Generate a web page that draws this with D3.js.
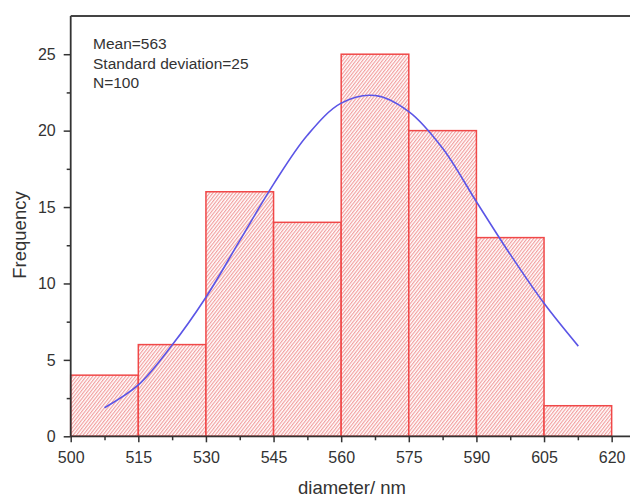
<!DOCTYPE html>
<html lang="en">
<head>
  <meta charset="UTF-8">
  <title>Diameter histogram</title>
  <script src="https://cdn.jsdelivr.net/npm/d3@7"></script>
  <style>
    body { margin: 0; background: #fff; }
    text { font-family: "Liberation Sans", Arial, sans-serif; fill: #333; }
  </style>
</head>
<body>
<div id="chart"></div>
<script>
  // histogram data
  var binEdges = [500, 515, 530, 545, 560, 575, 590, 605, 620];
  var counts = [4, 6, 16, 14, 25, 20, 13, 2];
  var xTicks = [500, 515, 530, 545, 560, 575, 590, 605, 620];
  var yTicks = [0, 5, 10, 15, 20, 25];
  // fitted normal curve
  var fitX = [507.5, 515, 522.5, 530, 537.5, 545, 552.5, 560, 567.5, 575, 582.5, 590, 597.5, 605, 612.6];
  var fitY = [1.87, 3.36, 5.97, 9.1, 12.8, 16.5, 19.7, 21.8, 22.3, 21.25, 18.85, 15.35, 11.9, 8.7, 5.9];
  var statLines = ["Mean=563", "Standard deviation=25", "N=100"];

  var width = 630, height = 498;
  var plotLeft = 70.7, plotTop = 16, plotBottom = 436.3;

  var svg = d3.select("#chart").append("svg")
    .attr("width", width)
    .attr("height", height);

  var x = d3.scaleLinear().domain([500, 625]).range([plotLeft, plotLeft + 125 * 4.508]);
  var y = d3.scaleLinear().domain([0, 27.5]).range([plotBottom, plotTop]);

  // hatch fill
  var pat = svg.append("defs").append("pattern")
    .attr("id", "hatch")
    .attr("patternUnits", "userSpaceOnUse")
    .attr("width", 2.6)
    .attr("height", 2.6)
    .attr("patternTransform", "rotate(38)");
  pat.append("rect").attr("width", 2.6).attr("height", 2.6).attr("fill", "#fff");
  pat.append("line")
    .attr("x1", 0.6).attr("y1", 0).attr("x2", 0.6).attr("y2", 2.6)
    .attr("stroke", "#f29a9a").attr("stroke-width", 1.1);

  var bins = counts.map(function(c, i) { return { x0: binEdges[i], x1: binEdges[i + 1], n: c }; });

  svg.append("g").selectAll("rect")
    .data(bins)
    .enter().append("rect")
    .attr("x", function(d) { return x(d.x0); })
    .attr("y", function(d) { return y(d.n); })
    .attr("width", function(d) { return x(d.x1) - x(d.x0); })
    .attr("height", function(d) { return y(0) - y(d.n); })
    .attr("fill", "url(#hatch)")
    .attr("stroke", "#f04848")
    .attr("stroke-width", 1.5);

  // fit curve
  var pts = fitX.map(function(v, i) { return [v, fitY[i]]; });
  var line = d3.line()
    .x(function(d) { return x(d[0]); })
    .y(function(d) { return y(d[1]); })
    .curve(d3.curveCatmullRom);
  svg.append("path")
    .datum(pts)
    .attr("d", line)
    .attr("fill", "none")
    .attr("stroke", "#5b55e6")
    .attr("stroke-width", 1.6);

  // axes
  var minorX = d3.range(507.5, 625, 15);
  var minorY = d3.range(2.5, 27.5, 5);

  var xAxis = svg.append("g").attr("transform", "translate(0," + plotBottom + ")");
  xAxis.call(d3.axisBottom(x).tickValues(minorX).tickSize(4).tickFormat(""));
  xAxis.append("g").call(d3.axisBottom(x).tickValues(xTicks).tickSize(6).tickPadding(9).tickFormat(d3.format("d")));
  xAxis.selectAll(".domain").remove();
  xAxis.selectAll("line").attr("stroke", "#333").attr("stroke-width", 1.5);
  xAxis.selectAll("text").style("font-size", "16px").attr("fill", "#333");

  var yAxis = svg.append("g").attr("transform", "translate(" + plotLeft + ",0)");
  yAxis.call(d3.axisLeft(y).tickValues(minorY).tickSize(4).tickFormat(""));
  yAxis.append("g").call(d3.axisLeft(y).tickValues(yTicks).tickSize(7).tickPadding(8).tickFormat(d3.format("d")));
  yAxis.selectAll(".domain").remove();
  yAxis.selectAll("line").attr("stroke", "#333").attr("stroke-width", 1.5);
  yAxis.selectAll("text").style("font-size", "16px").attr("fill", "#333");

  // frame lines
  svg.append("line").attr("x1", plotLeft).attr("x2", width).attr("y1", plotBottom).attr("y2", plotBottom)
    .attr("stroke", "#333").attr("stroke-width", 1.8);
  svg.append("line").attr("x1", plotLeft).attr("x2", plotLeft).attr("y1", plotTop).attr("y2", plotBottom)
    .attr("stroke", "#333").attr("stroke-width", 1.8);
  svg.append("line").attr("x1", plotLeft).attr("x2", width).attr("y1", plotTop).attr("y2", plotTop)
    .attr("stroke", "#444").attr("stroke-width", 2);

  // labels
  svg.append("text")
    .attr("x", 352)
    .attr("y", 494)
    .attr("text-anchor", "middle")
    .style("font-size", "18.5px")
    .text("diameter/ nm");

  svg.append("text")
    .attr("transform", "translate(26,235) rotate(-90)")
    .attr("text-anchor", "middle")
    .style("font-size", "18.5px")
    .text("Frequency");

  svg.append("g").selectAll("text")
    .data(statLines)
    .enter().append("text")
    .attr("x", 93)
    .attr("y", function(d, i) { return 49 + i * 19.5; })
    .style("font-size", "15.5px")
    .text(function(d) { return d; });
</script>
</body>
</html>
